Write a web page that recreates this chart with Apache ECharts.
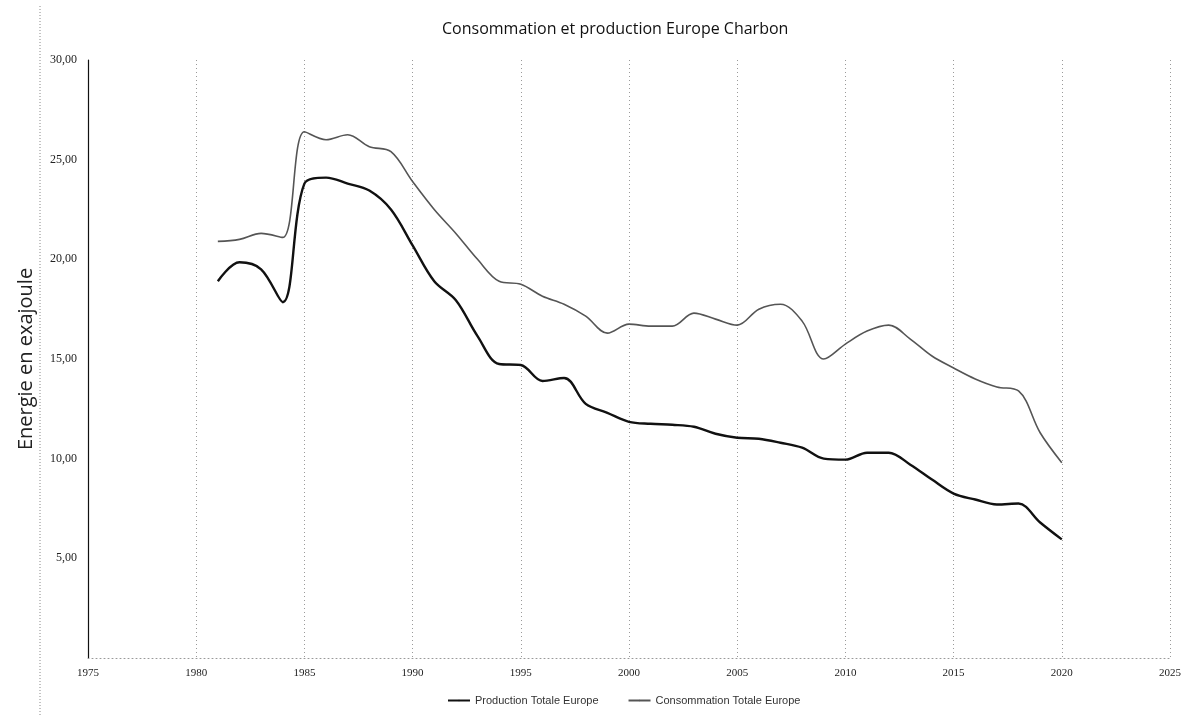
<!DOCTYPE html>
<html>
<head>
<meta charset="utf-8">
<title>Consommation et production Europe Charbon</title>
<script src="https://cdn.jsdelivr.net/npm/echarts@6/dist/echarts.min.js"></script>
<style>
  html, body { margin: 0; padding: 0; background: #fff; }
  #chart { width: 1184px; height: 716px; }
</style>
</head>
<body>
<div id="chart"></div>
<script>
// Years covered by both series
const years = [1981, 1982, 1983, 1984, 1985, 1986, 1987, 1988, 1989, 1990,
               1991, 1992, 1993, 1994, 1995, 1996, 1997, 1998, 1999, 2000,
               2001, 2002, 2003, 2004, 2005, 2006, 2007, 2008, 2009, 2010,
               2011, 2012, 2013, 2014, 2015, 2016, 2017, 2018, 2019, 2020];

// Coal production in Europe (EJ)
const production = [18.9, 19.85, 19.5, 17.85, 23.8, 24.1, 23.8, 23.45, 22.5, 20.7,
                    18.9, 17.95, 16.15, 14.75, 14.7, 13.9, 14.05, 12.75, 12.3, 11.85,
                    11.75, 11.7, 11.6, 11.25, 11.05, 11.0, 10.8, 10.55, 10.0, 9.95,
                    10.3, 10.3, 9.7, 8.95, 8.25, 7.95, 7.7, 7.75, 6.8, 5.95];

// Coal consumption in Europe (EJ)
const consumption = [20.9, 21.0, 21.3, 21.1, 26.4, 26.0, 26.25, 25.65, 25.4, 23.9,
                     22.5, 21.3, 20.0, 18.9, 18.75, 18.15, 17.75, 17.15, 16.3, 16.75,
                     16.65, 16.65, 17.3, 17.0, 16.7, 17.5, 17.75, 16.9, 15.0, 15.75,
                     16.4, 16.7, 16.0, 15.15, 14.55, 14.0, 13.6, 13.4, 11.3, 9.8];

// Axis settings
const xMin = 1975, xMax = 2025, xStep = 5;
const yMin = 0, yMax = 30, yStep = 5;

const seriesNames = ['Production Totale Europe', 'Consommation Totale Europe'];
const titleText = 'Consommation et production Europe Charbon';
const yAxisTitle = 'Energie en exajoule';

const toPairs = (vals) => years.map((y, i) => [y, vals[i]]);

const chart = echarts.init(document.getElementById('chart'), null, { renderer: 'canvas' });

chart.setOption({
  animation: false,
  backgroundColor: '#ffffff',
  title: {
    text: titleText,
    left: 437,
    top: 16,
    textStyle: {
      fontFamily: 'Open Sans',
      fontSize: 16,
      fontWeight: 'normal',
      color: '#111'
    }
  },
  legend: {
    data: seriesNames,
    left: 442,
    top: 690,
    itemWidth: 22,
    itemHeight: 2,
    itemGap: 29,
    textStyle: {
      fontFamily: 'Liberation Sans Narrow, Liberation Sans',
      fontSize: 11,
      color: '#333'
    }
  },
  grid: {
    left: 88,
    right: 12,
    top: 60,
    bottom: 58,
    containLabel: false
  },
  xAxis: {
    type: 'value',
    min: xMin,
    max: xMax,
    interval: xStep,
    axisLine: { show: true, lineStyle: { color: '#999', type: [1, 3], width: 1 } },
    axisTick: { show: false },
    axisLabel: {
      margin: 10,
      fontFamily: 'Liberation Serif',
      fontSize: 11,
      color: '#222',
      formatter: (v) => String(v)
    },
    splitLine: { show: true, lineStyle: { color: '#9a9a9a', type: [1, 3], width: 1 } }
  },
  yAxis: {
    type: 'value',
    min: yMin,
    max: yMax,
    interval: yStep,
    name: yAxisTitle,
    nameLocation: 'middle',
    nameGap: 52,
    nameRotate: 90,
    nameTextStyle: {
      fontFamily: 'Open Sans',
      fontSize: 20,
      color: '#222'
    },
    axisLine: { show: true, lineStyle: { color: '#111', width: 1.2 } },
    axisTick: { show: false },
    axisLabel: {
      margin: 11,
      fontFamily: 'Liberation Serif',
      fontSize: 12,
      color: '#222',
      formatter: (v) => (v === 0 ? '' : v.toFixed(2).replace('.', ','))
    },
    splitLine: { show: false }
  },
  graphic: [{
    type: 'line',
    shape: { x1: 40, y1: 6, x2: 40, y2: 716 },
    style: { stroke: '#888', lineWidth: 1, lineDash: [1, 2] },
    silent: true
  }],
  series: [
    {
      name: seriesNames[0],
      type: 'line',
      data: toPairs(production),
      smooth: 0.35,
      symbol: 'none',
      lineStyle: { color: '#111', width: 2.4 },
      itemStyle: { color: '#111' }
    },
    {
      name: seriesNames[1],
      type: 'line',
      data: toPairs(consumption),
      smooth: 0.35,
      symbol: 'none',
      lineStyle: { color: '#555', width: 1.6 },
      itemStyle: { color: '#555' }
    }
  ]
});
</script>
</body>
</html>
